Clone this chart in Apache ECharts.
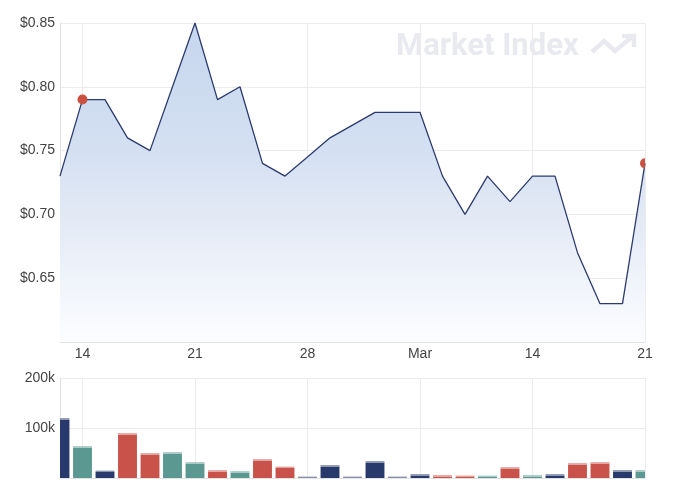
<!DOCTYPE html>
<html>
<head>
<meta charset="utf-8">
<script src="https://cdn.jsdelivr.net/npm/echarts@6/dist/echarts.min.js"></script>
<style>
  html, body { margin: 0; padding: 0; background: #fff; }
  #chart { width: 690px; height: 495px; }
</style>
</head>
<body>
<div id="chart"></div>
<script>
// trading days shown on the chart
var dates = [
  '2022-02-11', '2022-02-14', '2022-02-15', '2022-02-16', '2022-02-17', '2022-02-18',
  '2022-02-21', '2022-02-22', '2022-02-23', '2022-02-24', '2022-02-25',
  '2022-02-28', '2022-03-01', '2022-03-02', '2022-03-03', '2022-03-04',
  '2022-03-07', '2022-03-08', '2022-03-09', '2022-03-10', '2022-03-11',
  '2022-03-14', '2022-03-15', '2022-03-16', '2022-03-17', '2022-03-18',
  '2022-03-21'
];
var prices = [
  0.73, 0.79, 0.79, 0.76, 0.75, 0.80,
  0.85, 0.79, 0.80, 0.74, 0.73,
  0.745, 0.76, 0.77, 0.78, 0.78,
  0.78, 0.73, 0.70, 0.73, 0.71,
  0.73, 0.73, 0.67, 0.63, 0.63,
  0.74
];
var volumes = [
  117000, 61000, 12000, 87000, 47000, 49000,
  29000, 13000, 11000, 35000, 20000,
  0, 23000, 0, 31000, 0,
  5000, 3000, 2000, 2000, 19000,
  3000, 5000, 27000, 29000, 13000,
  13000
];
// day colour: up / down / flat
var barTone = [
  'flat', 'up', 'flat', 'down', 'down', 'up',
  'up', 'down', 'up', 'down', 'down',
  'flat', 'flat', 'flat', 'flat', 'flat',
  'flat', 'down', 'down', 'up', 'down',
  'up', 'flat', 'down', 'down', 'flat',
  'up'
];
var tickDates = ['2022-02-14', '2022-02-21', '2022-02-28', '2022-03-07', '2022-03-14', '2022-03-21'];
var tickLabels = ['14', '21', '28', 'Mar', '14', '21'];
var markedDays = ['2022-02-14', '2022-03-21'];

var toneColor = { up: '#5a9891', down: '#c9534a', flat: '#283a6b' };
var capColor = { up: '#a9c9c5', down: '#e2a39e', flat: '#8b93ac' };

var chart = echarts.init(document.getElementById('chart'));

function isTick(i) {
  return tickDates.indexOf(dates[i]) >= 0;
}
function tickText(v) {
  var k = tickDates.indexOf(v);
  return k >= 0 ? tickLabels[k] : '';
}

// volume bars, clipped to the grid (edge bars are cut in half)
function renderVolume(params, api) {
  var i = api.value(0);
  var top = api.coord([i, api.value(1)]);
  var base = api.coord([i, 0]);
  var w = api.size([1, 0])[0] * 0.84;
  var tone = barTone[params.dataIndex];
  var cs = params.coordSys;
  var kids = [];
  var body = echarts.graphic.clipRectByRect(
    { x: top[0] - w / 2, y: top[1], width: w, height: base[1] - top[1] }, cs);
  if (body && body.height > 0) {
    kids.push({ type: 'rect', shape: body, style: { fill: toneColor[tone] } });
  }
  var cap = echarts.graphic.clipRectByRect(
    { x: top[0] - w / 2, y: top[1] - 1.4, width: w, height: 1.4 }, cs);
  if (cap) {
    kids.push({ type: 'rect', shape: cap, style: { fill: capColor[tone] } });
  }
  return { type: 'group', children: kids };
}

function renderDot(params, api) {
  var p = api.coord([api.value(0), api.value(1)]);
  return { type: 'circle', shape: { cx: p[0], cy: p[1], r: 5 }, style: { fill: '#cb5240' } };
}

var labelFont = { color: '#444', fontSize: 14, fontFamily: 'Liberation Sans, Arial, sans-serif' };
var gridLine = { show: true, lineStyle: { color: '#ececec', width: 1 } };
var edgeLine = { show: true, lineStyle: { color: '#e3e3e3', width: 1 } };
var wmColor = '#e9eaef';

var options = {
  animation: false,
  backgroundColor: '#fff',
  grid: [
    { left: 60, right: 45, top: 23, height: 319 },
    { left: 60, right: 45, top: 378, height: 100 }
  ],
  xAxis: [
    {
      type: 'category', gridIndex: 0, data: dates, boundaryGap: false,
      axisLine: edgeLine, axisTick: { show: false },
      axisLabel: Object.assign({ interval: isTick, formatter: tickText, margin: 5 }, labelFont),
      splitLine: { show: true, interval: isTick, lineStyle: { color: '#ececec' } }
    },
    {
      type: 'category', gridIndex: 1, data: dates, boundaryGap: false,
      axisLine: edgeLine, axisTick: { show: false },
      axisLabel: { show: false },
      splitLine: { show: true, interval: isTick, lineStyle: { color: '#ececec' } }
    }
  ],
  yAxis: [
    {
      type: 'value', gridIndex: 0, min: 0.6, max: 0.85, interval: 0.05,
      axisLine: edgeLine, axisTick: { show: false },
      splitLine: gridLine,
      axisLabel: Object.assign({
        margin: 5, showMinLabel: false,
        formatter: function (v) { return '$' + v.toFixed(2); }
      }, labelFont)
    },
    {
      type: 'value', gridIndex: 1, min: 0, max: 200000, interval: 100000,
      axisLine: edgeLine, axisTick: { show: false },
      splitLine: gridLine,
      axisLabel: Object.assign({
        margin: 5, showMinLabel: false,
        formatter: function (v) { return (v / 1000) + 'k'; }
      }, labelFont)
    }
  ],
  graphic: [
    {
      type: 'text', left: 396, top: 32, z: 0, silent: true,
      style: {
        text: 'Market Index', fill: wmColor,
        font: 'bold 31px Roboto, sans-serif'
      }
    },
    {
      type: 'polyline', z: 0, silent: true,
      shape: { points: [[592, 52], [604, 41], [615, 51], [633, 36]] },
      style: { stroke: wmColor, lineWidth: 4.5, fill: null, lineJoin: 'miter' }
    },
    {
      type: 'polyline', z: 0, silent: true,
      shape: { points: [[622, 36], [634, 36], [634, 47]] },
      style: { stroke: wmColor, lineWidth: 4.5, fill: null, lineJoin: 'miter' }
    }
  ],
  series: [
    {
      type: 'line', xAxisIndex: 0, yAxisIndex: 0, data: prices,
      symbol: 'none',
      lineStyle: { color: '#2c3b6e', width: 1.3 },
      areaStyle: {
        opacity: 1,
        color: new echarts.graphic.LinearGradient(0, 0, 0, 1, [
          { offset: 0, color: '#c6d6ee' },
          { offset: 0.4, color: '#d4e0f2' },
          { offset: 0.6, color: '#e2e9f5' },
          { offset: 0.8, color: '#eff3fa' },
          { offset: 1, color: '#fcfdff' }
        ])
      },
      z: 3
    },
    {
      type: 'custom', xAxisIndex: 0, yAxisIndex: 0, clip: true,
      data: markedDays.map(function (d) {
        var i = dates.indexOf(d);
        return [i, prices[i]];
      }),
      encode: { x: 0, y: 1 },
      renderItem: renderDot,
      z: 5
    },
    {
      type: 'custom', xAxisIndex: 1, yAxisIndex: 1,
      data: volumes.map(function (v, i) { return [i, v]; }),
      encode: { x: 0, y: 1 },
      renderItem: renderVolume
    }
  ]
};

chart.setOption(options);
</script>
</body>
</html>
